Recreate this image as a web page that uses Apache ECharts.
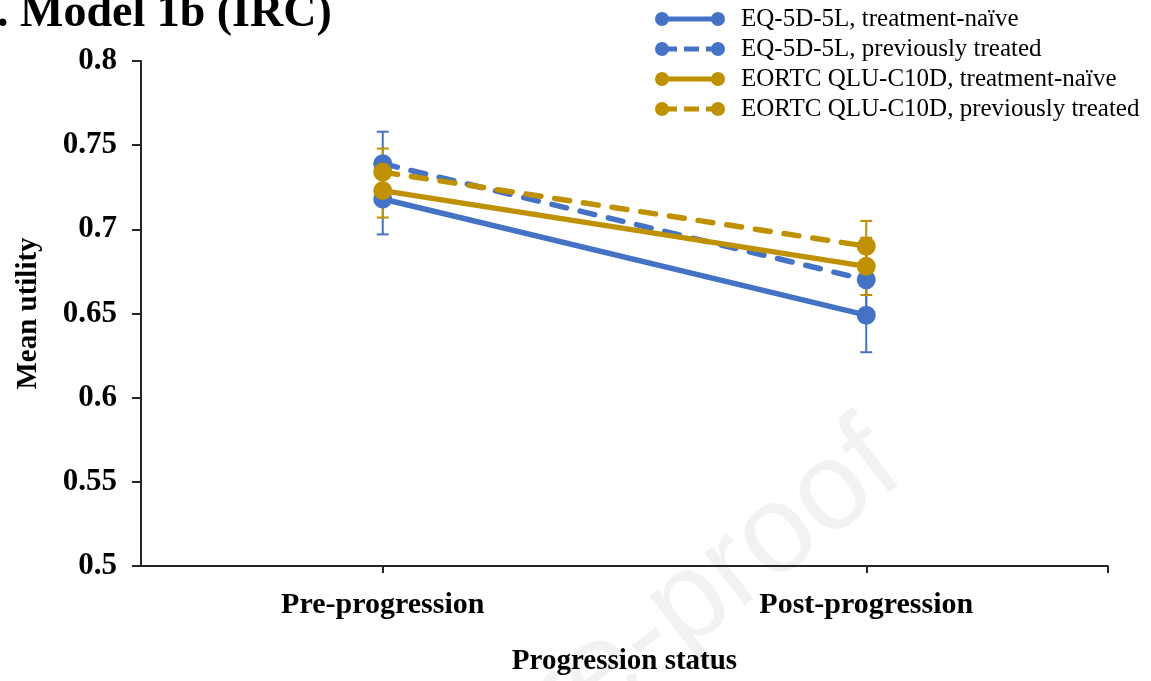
<!DOCTYPE html>
<html>
<head>
<meta charset="utf-8">
<script src="https://cdn.jsdelivr.net/npm/echarts@6/dist/echarts.min.js"></script>
<style>
html,body{margin:0;padding:0;background:#fff;}
#main{width:1151px;height:681px;}
</style>
</head>
<body>
<div id="main"></div>
<script>
// ---- data ----
const categories = ['Pre-progression', 'Post-progression'];
const catPos = [1, 2];
const seriesNames = [
  'EQ-5D-5L, treatment-naïve',
  'EQ-5D-5L, previously treated',
  'EORTC QLU-C10D, treatment-naïve',
  'EORTC QLU-C10D, previously treated'
];
const eqNaive = [0.718, 0.649];
const eqNaiveLow = [0.697, 0.627];
const eqNaiveHigh = [0.739, 0.671];
const eqPrev = [0.739, 0.670];
const eqPrevLow = [0.721, 0.651];
const eqPrevHigh = [0.758, 0.689];
const qluNaive = [0.723, 0.678];
const qluNaiveLow = [0.707, 0.661];
const qluNaiveHigh = [0.739, 0.695];
const qluPrev = [0.734, 0.690];
const qluPrevLow = [0.720, 0.675];
const qluPrevHigh = [0.748, 0.705];
const yTicks = { min: 0.5, max: 0.8, interval: 0.05 };
const titleText = '. Model 1b (IRC)';
const xAxisName = 'Progression status';
const yAxisName = 'Mean utility';
const watermark = 'Journal Pre-proof';

// ---- styling ----
const BLUE = '#4472C4';
const GOLD = '#BF9000';
const AXIS = '#262626';
const SERIF = 'Liberation Serif';

const solidIcon = 'path://M0,7A7,7 0 1,1 14,7A7,7 0 1,1 0,7ZM56,7A7,7 0 1,1 70,7A7,7 0 1,1 56,7ZM7,4.5L63,4.5L63,9.5L7,9.5Z';
const dashIcon = 'path://M0,7A7,7 0 1,1 14,7A7,7 0 1,1 0,7ZM56,7A7,7 0 1,1 70,7A7,7 0 1,1 56,7ZM7,4.5L22,4.5L22,9.5L7,9.5ZM29,4.5L44,4.5L44,9.5L29,9.5ZM51,4.5L63,4.5L63,9.5L51,9.5Z';

function pts(vals) { return vals.map((v, i) => [catPos[i], v]); }
function errs(lo, hi) { return lo.map((v, i) => [catPos[i], v, hi[i]]); }

function errRender(params, api) {
  const x = api.value(0), lo = api.value(1), hi = api.value(2);
  const p1 = api.coord([x, hi]);
  const p2 = api.coord([x, lo]);
  const w = 6;
  const style = { stroke: api.visual('color'), lineWidth: 2 };
  return {
    type: 'group',
    children: [
      { type: 'line', shape: { x1: p1[0], y1: p1[1], x2: p2[0], y2: p2[1] }, style: style },
      { type: 'line', shape: { x1: p1[0] - w, y1: p1[1], x2: p1[0] + w, y2: p1[1] }, style: style },
      { type: 'line', shape: { x1: p2[0] - w, y1: p2[1], x2: p2[0] + w, y2: p2[1] }, style: style }
    ]
  };
}

function errSeries(lo, hi, color) {
  return {
    type: 'custom', renderItem: errRender, data: errs(lo, hi),
    itemStyle: { color: color }, z: 1, silent: true,
    encode: { x: 0, y: [1, 2] }
  };
}

function lineSeries(name, vals, color, dashed) {
  return {
    name: name, type: 'line', data: pts(vals), z: 3,
    symbol: 'circle', symbolSize: 19, showSymbol: true,
    itemStyle: { color: color },
    lineStyle: { color: color, width: 5.5, type: dashed ? [15, 14] : 'solid', cap: dashed ? 'round' : 'butt' },
    animation: false
  };
}

const chart = echarts.init(document.getElementById('main'), null, { renderer: 'canvas' });
chart.setOption({
  animation: false,
  backgroundColor: '#fff',
  title: {
    text: titleText, left: -3, top: -9, padding: 0,
    textStyle: { fontFamily: SERIF, fontWeight: 'bold', fontSize: 46, color: '#000' }
  },
  graphic: [{
    type: 'text', z: -10, silent: true,
    x: 925, y: 500, rotation: 38 * Math.PI / 180,
    style: {
      text: watermark, font: '125px "Liberation Sans"', fill: 'rgba(0,0,0,0.05)',
      textAlign: 'right', textVerticalAlign: 'bottom'
    }
  }],
  legend: {
    orient: 'vertical', left: 655, top: 4, padding: 0, itemGap: 0,
    itemWidth: 70, itemHeight: 14,
    textStyle: { fontFamily: SERIF, fontSize: 25, color: '#000', lineHeight: 30, padding: [0, 0, 0, 11] },
    data: [
      { name: seriesNames[0], icon: solidIcon },
      { name: seriesNames[1], icon: dashIcon },
      { name: seriesNames[2], icon: solidIcon },
      { name: seriesNames[3], icon: dashIcon }
    ]
  },
  grid: { left: 141, right: 43, top: 61, bottom: 115 },
  xAxis: {
    type: 'value', min: 0.5, max: 2.5,
    splitLine: { show: false },
    axisLine: { lineStyle: { color: AXIS, width: 2 } },
    axisTick: { show: true, customValues: [1, 2, 2.5], length: 7, lineStyle: { color: AXIS, width: 2 } },
    axisLabel: {
      customValues: catPos, margin: 24,
      formatter: v => categories[Math.round(v) - 1],
      fontFamily: SERIF, fontWeight: 'bold', fontSize: 30, color: '#000'
    },
    name: xAxisName, nameLocation: 'middle', nameGap: 81,
    nameTextStyle: { fontFamily: SERIF, fontWeight: 'bold', fontSize: 29, color: '#000' }
  },
  yAxis: {
    type: 'value', min: yTicks.min, max: yTicks.max, interval: yTicks.interval,
    splitLine: { show: false },
    axisLine: { show: true, lineStyle: { color: AXIS, width: 2 } },
    axisTick: { show: true, length: 9, lineStyle: { color: AXIS, width: 2 } },
    axisLabel: { margin: 24, fontFamily: SERIF, fontWeight: 'bold', fontSize: 31, color: '#000' },
    name: yAxisName, nameLocation: 'middle', nameGap: 98,
    nameTextStyle: { fontFamily: SERIF, fontWeight: 'bold', fontSize: 29, color: '#000' }
  },
  series: [
    errSeries(eqNaiveLow, eqNaiveHigh, BLUE),
    errSeries(eqPrevLow, eqPrevHigh, BLUE),
    errSeries(qluNaiveLow, qluNaiveHigh, GOLD),
    errSeries(qluPrevLow, qluPrevHigh, GOLD),
    lineSeries(seriesNames[0], eqNaive, BLUE, false),
    lineSeries(seriesNames[1], eqPrev, BLUE, true),
    lineSeries(seriesNames[2], qluNaive, GOLD, false),
    lineSeries(seriesNames[3], qluPrev, GOLD, true)
  ]
});
</script>
</body>
</html>
